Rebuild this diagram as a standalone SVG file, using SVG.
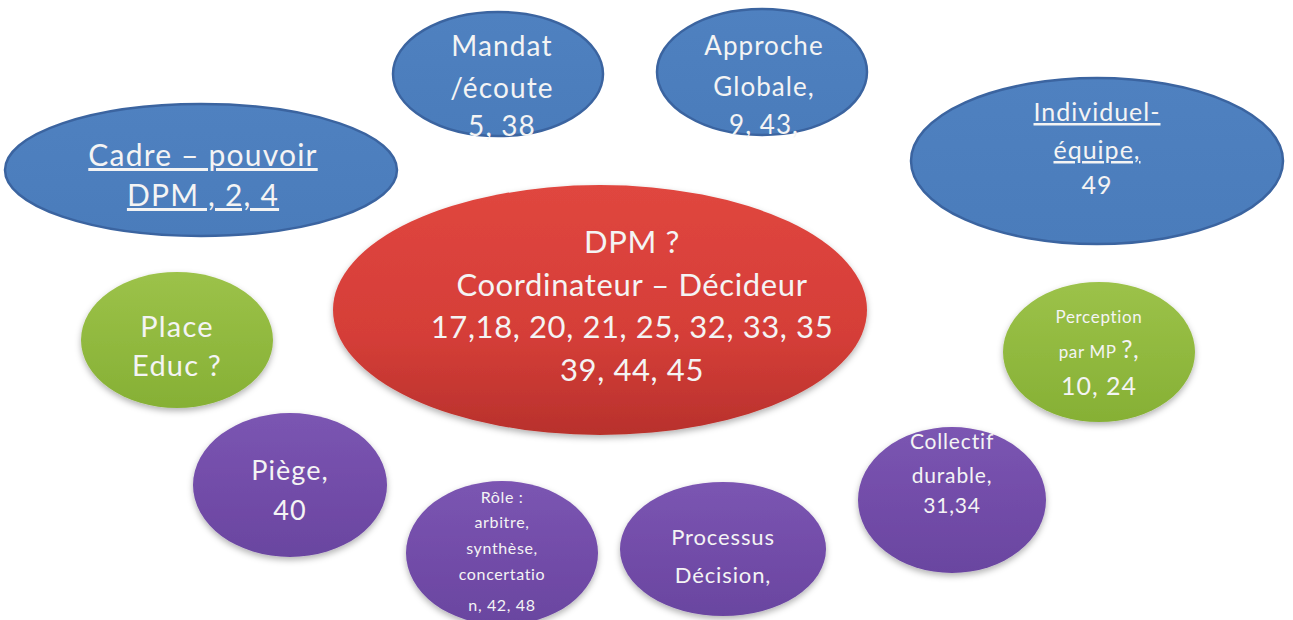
<svg xmlns="http://www.w3.org/2000/svg" width="1293" height="620" viewBox="0 0 1293 620">
<defs>
<linearGradient id="gBlue" x1="0" y1="0" x2="0" y2="1"><stop offset="0" stop-color="#4f81c0"/><stop offset="1" stop-color="#4a7cbb"/></linearGradient>
<linearGradient id="gRed" x1="0" y1="0" x2="0" y2="1"><stop offset="0" stop-color="#e0463f"/><stop offset="0.6" stop-color="#d53e38"/><stop offset="1" stop-color="#b8312c"/></linearGradient>
<linearGradient id="gGreen" x1="0" y1="0" x2="0" y2="1"><stop offset="0" stop-color="#9cc249"/><stop offset="1" stop-color="#86b035"/></linearGradient>
<linearGradient id="gPurple" x1="0" y1="0" x2="0" y2="1"><stop offset="0" stop-color="#7b55b2"/><stop offset="1" stop-color="#6a45a0"/></linearGradient>
<filter id="sh" x="-10%" y="-10%" width="120%" height="130%"><feDropShadow dx="0" dy="3" stdDeviation="3" flood-color="#000" flood-opacity="0.3"/></filter>
</defs>
<style>
.blue{fill:url(#gBlue);stroke:#3b64a0;stroke-width:2.5}
.red{fill:url(#gRed);filter:url(#sh)}
.green{fill:url(#gGreen);filter:url(#sh)}
.purple{fill:url(#gPurple);filter:url(#sh)}
text{font-family:Lato,"Open Sans","Liberation Sans",sans-serif;fill:#f4f4f4;text-anchor:middle;letter-spacing:0.04em}
.rt{letter-spacing:0.02em}
.u{text-decoration:underline}
</style>
<rect width="1293" height="620" fill="#ffffff"/>
<g id="connectors"/>
<g id="cadre">
<ellipse class="blue" cx="201" cy="170" rx="196" ry="66"/>
<text x="203" y="166" font-size="30" class="u">Cadre – pouvoir</text>
<text x="203" y="206" font-size="30" class="u">DPM , 2, 4</text>
</g>
<g id="mandat">
<ellipse class="blue" cx="498" cy="74" rx="105" ry="62"/>
<text x="502" y="56" font-size="28">Mandat</text>
<text x="502" y="98" font-size="28">/écoute</text>
<text x="502" y="136" font-size="28">5, 38</text>
</g>
<g id="approche">
<ellipse class="blue" cx="762" cy="72" rx="105" ry="63"/>
<text x="764" y="55" font-size="26">Approche</text>
<text x="764" y="96" font-size="26">Globale,</text>
<text x="764" y="134" font-size="26">9, 43,</text>
</g>
<g id="individuel">
<ellipse class="blue" cx="1097" cy="161" rx="186" ry="83"/>
<text x="1097" y="121" font-size="25" class="u">Individuel-</text>
<text x="1097" y="159" font-size="25" class="u">équipe,</text>
<text x="1097" y="194" font-size="25">49</text>
</g>
<g id="dpm">
<ellipse class="red" cx="600" cy="310" rx="267" ry="125"/>
<text class="rt" x="632" y="253" font-size="31">DPM ?</text>
<text class="rt" x="632" y="296" font-size="31">Coordinateur – Décideur</text>
<text class="rt" x="632" y="338" font-size="31">17,18, 20, 21, 25, 32, 33, 35</text>
<text class="rt" x="632" y="381" font-size="31">39, 44, 45</text>
</g>
<g id="place">
<ellipse class="green" cx="177" cy="340" rx="96" ry="68"/>
<text x="177" y="337" font-size="29">Place</text>
<text x="177" y="376" font-size="29">Educ ?</text>
</g>
<g id="perception">
<ellipse class="green" cx="1099" cy="352" rx="96" ry="70"/>
<text x="1099" y="323" font-size="17">Perception</text>
<text x="1099" y="358"><tspan font-size="17">par MP </tspan><tspan font-size="25">?,</tspan></text>
<text x="1099" y="395" font-size="25">10, 24</text>
</g>
<g id="piege">
<ellipse class="purple" cx="290" cy="485" rx="97" ry="72"/>
<text x="290" y="480" font-size="27">Piège,</text>
<text x="290" y="520" font-size="27">40</text>
</g>
<g id="role">
<ellipse class="purple" cx="502" cy="553" rx="96" ry="72"/>
<text x="502" y="503" font-size="16">Rôle  :</text>
<text x="502" y="528" font-size="16">arbitre,</text>
<text x="502" y="554" font-size="16">synthèse,</text>
<text x="502" y="580" font-size="16">concertatio</text>
<text x="502" y="611" font-size="16">n, 42, 48</text>
</g>
<g id="processus">
<ellipse class="purple" cx="723" cy="549" rx="103" ry="67"/>
<text x="723" y="545" font-size="22">Processus</text>
<text x="723" y="583" font-size="22">Décision,</text>
</g>
<g id="collectif">
<ellipse class="purple" cx="952" cy="500" rx="94" ry="73"/>
<text x="952" y="449" font-size="21">Collectif</text>
<text x="952" y="483" font-size="21">durable,</text>
<text x="952" y="513" font-size="21">31,34</text>
</g>
</svg>
